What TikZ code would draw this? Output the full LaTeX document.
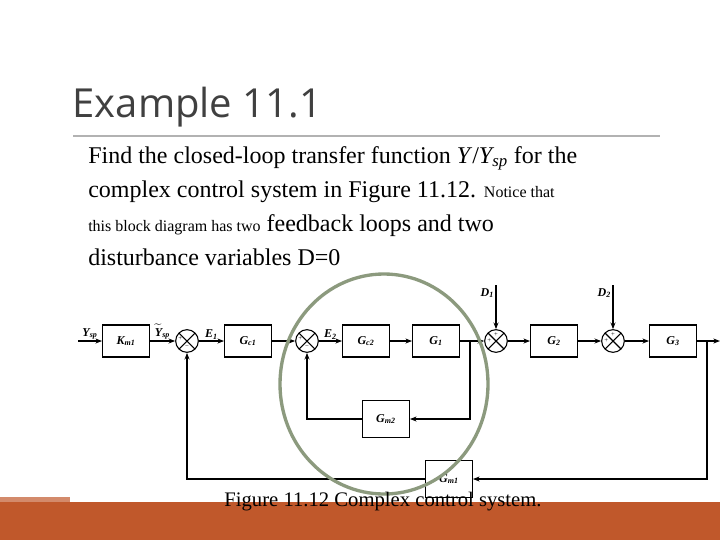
\documentclass[tikz,border=0pt]{standalone}
\usepackage{fontspec}
\setmainfont{Liberation Serif}
\newfontfamily\titlefont{Open Sans}
\usetikzlibrary{positioning,arrows.meta}
\definecolor{barorange}{HTML}{C0582B}
\definecolor{ringgreen}{HTML}{8C9A7E}
\tikzset{
  blk/.style={draw,line width=0.9pt,minimum width=35pt,minimum height=24pt,font=\bfseries\itshape\small},
  sumj/.style={draw,circle,line width=0.8pt,minimum size=17pt,inner sep=0pt,
    path picture={\draw (path picture bounding box.north west)--(path picture bounding box.south east)
      (path picture bounding box.north east)--(path picture bounding box.south west);}},
  sig/.style={-{Stealth[length=5pt]},line width=0.9pt},
  lbl/.style={font=\bfseries\itshape\small,inner sep=1pt},
  sgn/.style={font=\tiny,inner sep=0pt}
}
\begin{document}
\begin{tikzpicture}[x=0.75pt,y=-0.75pt]
\useasboundingbox (0,0) rectangle (720,540);
% slide
\fill[barorange] (0,502) rectangle (720,540);
\fill[barorange!70] (0,497) rectangle (70,502);
\node[anchor=west,font=\titlefont\fontsize{30}{34}\selectfont,text=black!75] (title) at (68,107) {Example 11.1};
\draw[black!30,line width=0.8pt] (73,136) -- (660,136);
\node[anchor=north west,align=left,font=\fontsize{18}{25.5}\selectfont,inner sep=0pt] (body) at (88,146)
{Find the closed-loop transfer function \textit{Y}/\textit{Y\textsubscript{sp}} for the\\
complex control system in Figure 11.12. {\fontsize{12}{12}\selectfont Notice that}\\
{\fontsize{12}{12}\selectfont this block diagram has two} feedback loops and two\\
disturbance variables D=0};
% block diagram
\fill[white] (70,278) rectangle (720,500);
\node[blk] (Km1) at (126,341) {K\textsubscript{m1}};
\node[sumj] (S1) at (187,341) {};
\node[blk] (Gc1) at (248,341) {G\textsubscript{c1}};
\node[sumj] (S2) at (307,341) {};
\node[blk] (Gc2) at (366,341) {G\textsubscript{c2}};
\node[blk] (G1) at (436,341) {G\textsubscript{1}};
\node[sumj] (S3) at (496,341) {};
\node[blk] (G2) at (554,341) {G\textsubscript{2}};
\node[sumj] (S4) at (613,341) {};
\node[blk] (G3) at (673,341) {G\textsubscript{3}};
\node[blk,minimum height=28pt] (Gm2) at (386,419) {G\textsubscript{m2}};
\node[blk,minimum height=28pt] (Gm1) at (449,479) {G\textsubscript{m1}};
\coordinate (in) at (78,341);
\coordinate (out) at (720,341);
\coordinate (b1) at (470,341);
\coordinate (b2) at (707,341);
\coordinate (D1p) at (496,285);
\coordinate (D2p) at (613,285);
\draw[sig] (in) -- node[lbl,above]{Y\textsubscript{sp}} (Km1);
\draw[sig] (Km1) -- node[lbl,above]{$\widetilde{\mbox{Y}}$\textsubscript{sp}} (S1);
\draw[sig] (S1) -- node[lbl,above]{E\textsubscript{1}} (Gc1);
\draw[sig] (Gc1) -- (S2);
\draw[sig] (S2) -- node[lbl,above]{E\textsubscript{2}} (Gc2);
\draw[sig] (Gc2) -- (G1);
\draw[sig] (G1) -- (S3);
\draw[sig] (S3) -- (G2);
\draw[sig] (G2) -- (S4);
\draw[sig] (S4) -- (G3);
\draw[sig] (G3) -- (out);
\draw[sig] (D1p) node[lbl,left,yshift=-6pt]{D\textsubscript{1}} -- (S3);
\draw[sig] (D2p) node[lbl,left,yshift=-6pt]{D\textsubscript{2}} -- (S4);
\draw[sig] (b1) |- (Gm2);
\draw[sig] (Gm2) -| (S2);
\draw[sig] (b2) |- (Gm1);
\draw[sig] (Gm1) -| (S1);
% signs
\node[sgn] at ([xshift=-5pt,yshift=2pt]S1.center) {+};
\node[sgn] at ([yshift=-5pt]S1.center) {\textminus};
\node[sgn] at ([xshift=-5pt,yshift=2pt]S2.center) {+};
\node[sgn] at ([yshift=-5pt]S2.center) {\textminus};
\node[sgn] at ([yshift=5pt]S3.center) {+};
\node[sgn] at ([xshift=-5pt]S3.center) {+};
\node[sgn] at ([yshift=5pt]S4.center) {+};
\node[sgn] at ([xshift=-5pt]S4.center) {+};
% highlight ring
\draw[ringgreen,line width=2.5pt] (384,384) ellipse [x radius=104,y radius=110];
\node[font=\fontsize{15.5}{16}\selectfont] (cap) at (383,502) {Figure 11.12 Complex control system.};
\end{tikzpicture}
\end{document}
